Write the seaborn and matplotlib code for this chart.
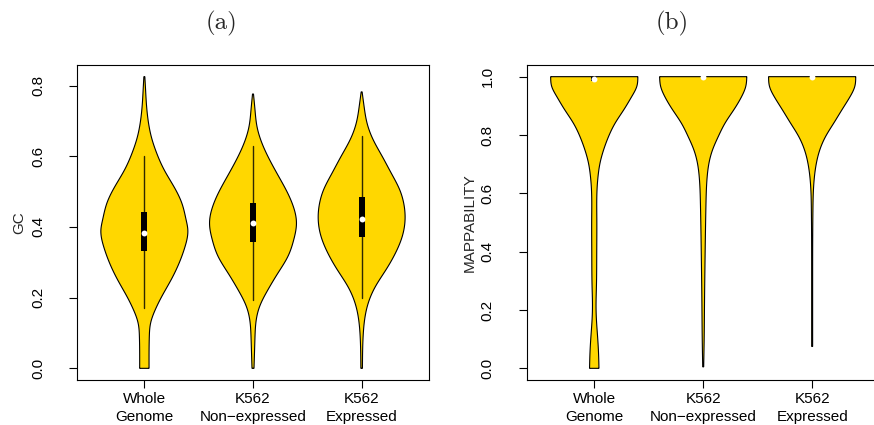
import numpy as np
import pandas as pd
import matplotlib
matplotlib.use("Agg")
import matplotlib.pyplot as plt
import seaborn as sns

# ---- data -----------------------------------------------------------------
groups = ["Whole\nGenome", "K562\nNon\u2212expressed", "K562\nExpressed"]

# GC content: density profiles (value, relative density) per group
gc_wg_y = [0.0, 0.043, 0.090, 0.128, 0.166, 0.203, 0.251, 0.298, 0.345, 0.392,
           0.420, 0.467, 0.514, 0.561, 0.608, 0.655, 0.703, 0.750, 0.790, 0.825]
gc_wg_d = [0.108, 0.108, 0.114, 0.144, 0.252, 0.400, 0.618, 0.801, 0.938, 1.0,
           0.961, 0.863, 0.680, 0.458, 0.286, 0.160, 0.085, 0.046, 0.027, 0.011]
gc_ne_y = [0.0, 0.043, 0.090, 0.138, 0.175, 0.222, 0.269, 0.316, 0.364, 0.411,
           0.458, 0.495, 0.542, 0.590, 0.637, 0.684, 0.731, 0.776]
gc_ne_d = [0.023, 0.034, 0.046, 0.076, 0.153, 0.343, 0.572, 0.801, 0.938, 1.0,
           0.927, 0.801, 0.595, 0.382, 0.206, 0.092, 0.046, 0.011]
gc_ex_y = [0.0, 0.090, 0.138, 0.185, 0.232, 0.279, 0.326, 0.373, 0.425, 0.467,
           0.505, 0.552, 0.599, 0.646, 0.693, 0.740, 0.782]
gc_ex_d = [0.018, 0.034, 0.069, 0.153, 0.320, 0.561, 0.778, 0.934, 1.0, 0.968,
           0.876, 0.682, 0.476, 0.268, 0.126, 0.057, 0.011]

# GC box summaries: lower whisker, Q1, median, Q3, upper whisker
gc_lower = [0.171, 0.194, 0.199]
gc_q1 = [0.331, 0.356, 0.371]
gc_median = [0.384, 0.410, 0.423]
gc_q3 = [0.441, 0.467, 0.486]
gc_upper = [0.601, 0.629, 0.657]

# Mappability: density profiles
map_wg_y = [0.0, 0.053, 0.110, 0.167, 0.213, 0.281, 0.396, 0.510, 0.613, 0.658,
            0.704, 0.750, 0.796, 0.841, 0.887, 0.933, 0.967, 1.0]
map_wg_d = [0.108, 0.098, 0.076, 0.050, 0.041, 0.050, 0.057, 0.059, 0.064, 0.087,
            0.133, 0.217, 0.332, 0.481, 0.680, 0.865, 0.977, 1.0]
map_ne_y = [0.005, 0.110, 0.224, 0.339, 0.453, 0.567, 0.658, 0.704, 0.750, 0.796,
            0.841, 0.887, 0.933, 0.967, 1.0]
map_ne_d = [0.011, 0.023, 0.030, 0.039, 0.050, 0.064, 0.092, 0.133, 0.217, 0.350,
            0.503, 0.705, 0.886, 0.977, 1.0]
map_ex_y = [0.075, 0.300, 0.545, 0.613, 0.658, 0.704, 0.750, 0.796, 0.841, 0.887,
            0.933, 0.967, 1.0]
map_ex_d = [0.011, 0.011, 0.018, 0.030, 0.053, 0.098, 0.178, 0.313, 0.497, 0.686,
            0.876, 0.979, 1.0]

map_lower = [0.985, 1.0, 1.0]
map_q1 = [0.985, 1.0, 1.0]
map_median = [0.993, 1.0, 1.0]
map_q3 = [1.0, 1.0, 1.0]
map_upper = [1.0, 1.0, 1.0]

FILL = "#FFD700"


def smooth_outline(x, y, xn):
    """Natural cubic spline through the density profile, for a smooth outline."""
    x = np.asarray(x, float)
    y = np.asarray(y, float)
    n = len(x)
    h = np.diff(x)
    A = np.zeros((n, n))
    r = np.zeros(n)
    A[0, 0] = A[-1, -1] = 1.0
    for i in range(1, n - 1):
        A[i, i - 1] = h[i - 1]
        A[i, i] = 2 * (h[i - 1] + h[i])
        A[i, i + 1] = h[i]
        r[i] = 3 * ((y[i + 1] - y[i]) / h[i] - (y[i] - y[i - 1]) / h[i - 1])
    c = np.linalg.solve(A, r)
    b = (y[1:] - y[:-1]) / h - h * (2 * c[:-1] + c[1:]) / 3
    d = (c[1:] - c[:-1]) / (3 * h)
    idx = np.clip(np.searchsorted(x, xn) - 1, 0, n - 2)
    dx = xn - x[idx]
    return y[idx] + b[idx] * dx + c[idx] * dx**2 + d[idx] * dx**3


def draw_violins(ax, profiles, lower, q1, med, q3, upper):
    for i, (yv, dv) in enumerate(profiles):
        pos = i + 1
        ys = np.linspace(yv[0], yv[-1], 500)
        w = 0.4 * np.clip(smooth_outline(yv, dv, ys), 0.008, None)
        ax.fill(np.r_[pos - w, (pos + w)[::-1]], np.r_[ys, ys[::-1]],
                facecolor=FILL, edgecolor="black", linewidth=0.8, zorder=2)
        ax.plot([pos, pos], [lower[i], upper[i]], color="#2e2800", lw=1.0, zorder=3)
        ax.fill_between([pos - 0.028, pos + 0.028], q1[i], q3[i],
                        color="black", linewidth=0, zorder=3)
    stats = pd.DataFrame({"pos": [1, 2, 3], "median": med})
    sns.scatterplot(data=stats, x="pos", y="median", ax=ax, color="white",
                    s=18, linewidth=0, zorder=4, legend=False)


sns.set_theme(style="ticks")
plt.rcParams["font.family"] = ["Liberation Sans", "DejaVu Sans"]
plt.rcParams.update({
    "axes.edgecolor": "black",
    "axes.linewidth": 0.8,
    "xtick.color": "black",
    "ytick.color": "black",
    "xtick.major.size": 5.5,
    "ytick.major.size": 5.5,
    "xtick.major.width": 0.8,
    "ytick.major.width": 0.8,
    "font.size": 11,
})

fig = plt.figure(figsize=(8.74, 4.25), dpi=100)
W, H = 874.0, 425.0
ax_a = fig.add_axes([77 / W, 45 / H, 352 / W, 315 / H])
ax_b = fig.add_axes([526.7 / W, 45 / H, 353 / W, 315 / H])

draw_violins(ax_a, [(gc_wg_y, gc_wg_d), (gc_ne_y, gc_ne_d), (gc_ex_y, gc_ex_d)],
             gc_lower, gc_q1, gc_median, gc_q3, gc_upper)
draw_violins(ax_b, [(map_wg_y, map_wg_d), (map_ne_y, map_ne_d), (map_ex_y, map_ex_d)],
             map_lower, map_q1, map_median, map_q3, map_upper)

for ax, ylim, yticks, ylabel, lx in [
    (ax_a, (-0.033, 0.858), [0.0, 0.2, 0.4, 0.6, 0.8], "GC", -0.143),
    (ax_b, (-0.04, 1.04), [0.0, 0.2, 0.4, 0.6, 0.8, 1.0], "MAPPABILITY", -0.141),
]:
    ax.set_xlim(0.38, 3.62)
    ax.set_ylim(*ylim)
    ax.set_xticks([1, 2, 3])
    ax.set_xticklabels(groups, fontsize=11, linespacing=1.34)
    ax.set_yticks(yticks)
    ax.set_yticklabels([f"{t:.1f}" for t in yticks], fontsize=11,
                       rotation=90, va="center")
    ax.tick_params(axis="y", pad=17.5)
    ax.tick_params(axis="x", pad=3)
    ax.set_xlabel("")
    ax.set_ylabel(ylabel, fontsize=11)
    ax.yaxis.set_label_coords(lx, 0.5)
    for sp in ax.spines.values():
        sp.set_visible(True)

fig.text(221 / W, 1 - 23 / H, "(a)", family="cmr10", fontsize=18,
         ha="center", va="center")
fig.text(672 / W, 1 - 23 / H, "(b)", family="cmr10", fontsize=18,
         ha="center", va="center")

fig.savefig("out.png", dpi=100)
